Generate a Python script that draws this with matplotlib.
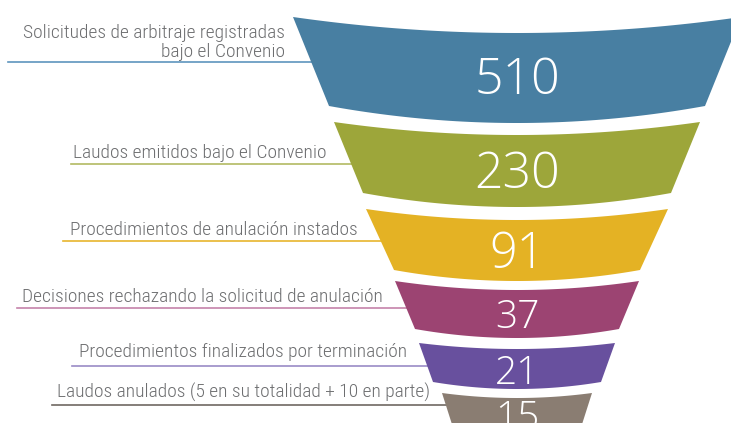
import numpy as np
import matplotlib
matplotlib.use('Agg')
import matplotlib.pyplot as plt

# Data
labels = ['Solicitudes de arbitraje registradas\nbajo el Convenio',
          'Laudos emitidos bajo el Convenio',
          'Procedimientos de anulación instados',
          'Decisiones rechazando la solicitud de anulación',
          'Procedimientos finalizados por terminación',
          'Laudos anulados (5 en su totalidad + 10 en parte)']
values = [510, 230, 91, 37, 21, 15]

# Styles
colors = ['#487FA2', '#9DA63A', '#E4B224', '#9C4472', '#68509E', '#8A7D72']
line_colors = ['#5E95BE', '#B3BA62', '#E8B52E', '#C583AA', '#9A8BC6', '#6F6862']
text_color = '#6D6E70'

# Layout (pixel space of the 731x423 picture)
cx = 517
y_top = [17, 122, 209, 281, 343, 393]
y_bot = [106, 193, 270, 329, 382, 440]
hw_top = [224, 183, 151, 122, 98, 75]
hw_bot = [188, 154, 123, 102, 84, 60]
sag_top = [16, 13, 11, 9, 6, 5]
sag_bot = [17, 14, 11, 9, 7, 5]
num_base = [94, 188, 268, 328, 384, 429]
num_size = [36, 36, 35, 28, 28, 28]
lab_x = [285, 73, 70, 22, 79, 57]
lab_y = [57, 158, 235, 302, 357, 398]
line_y = [62, 164, 241, 308, 366, 405]
line_x0 = [8, 71, 63, 17, 72, 52]

fig = plt.figure(figsize=(7.31, 4.23), dpi=100)
ax = fig.add_axes([0, 0, 1, 1])
ax.set_xlim(0, 731)
ax.set_ylim(423, 0)
ax.axis('off')


def arc(y0, hw, sag, n=60):
    x = np.linspace(cx - hw, cx + hw, n)
    t = (x - cx) / hw
    return x, y0 + sag * (1 - t ** 2)


for i, v in enumerate(values):
    # label underline runs under the funnel layer
    ax.plot([line_x0[i], cx], [line_y[i], line_y[i]], color=line_colors[i], lw=1.2, zorder=1)

    xt, yt = arc(y_top[i], hw_top[i], sag_top[i])
    xb, yb = arc(y_bot[i], hw_bot[i], sag_bot[i])
    xs = np.concatenate([xt, xb[::-1]])
    ys = np.concatenate([yt, yb[::-1]])
    ax.fill(xs, ys, color=colors[i], lw=0, zorder=2)

    ax.text(cx, num_base[i], str(v), color='white', fontsize=num_size[i],
            family='Open Sans', weight='light', ha='center', va='baseline', zorder=3)

    ha = 'right' if i == 0 else 'left'
    ax.text(lab_x[i], lab_y[i], labels[i], color=text_color, fontsize=14,
            family='Roboto Condensed', weight='light', ha=ha, va='baseline',
            multialignment='right', linespacing=1.1, zorder=3)

fig.savefig('out.png', dpi=100)
